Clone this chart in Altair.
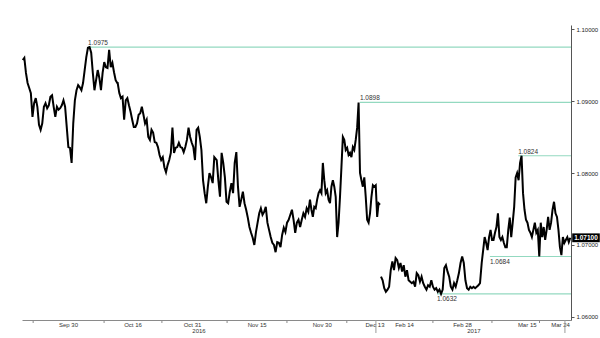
import altair as alt
import pandas as pd

# ---- price series, six consecutive chunks ----
chunk_a = [1.0957, 1.0960, 1.0939, 1.0925, 1.0918, 1.0911, 1.0878, 1.0897, 1.0904, 1.0892,
           1.0867, 1.0860, 1.0869, 1.0892, 1.0897, 1.0890, 1.0894, 1.0906, 1.0908, 1.0892,
           1.0878, 1.0892, 1.0888, 1.0890, 1.0894, 1.0901, 1.0892, 1.0864, 1.0836, 1.0835,
           1.0814, 1.0869, 1.0901, 1.0915, 1.0922, 1.0919, 1.0915, 1.0925, 1.0943, 1.0961,
           1.0974, 1.0975, 1.0967, 1.0939, 1.0915, 1.0929, 1.0943, 1.0932, 1.0915, 1.0939,
           1.0954, 1.0947, 1.0946, 1.0971, 1.0947, 1.0953, 1.0940, 1.0929, 1.0925]
chunk_b = [1.0925, 1.0911, 1.0904, 1.0906, 1.0874, 1.0901, 1.0904, 1.0894, 1.0885, 1.0874,
           1.0864, 1.0864, 1.0869, 1.0881, 1.0883, 1.0892, 1.0881, 1.0869, 1.0874, 1.0850,
           1.0846, 1.0860, 1.0856, 1.0843, 1.0842, 1.0836, 1.0825, 1.0818, 1.0822, 1.0808,
           1.0801, 1.0811, 1.0818, 1.0828, 1.0863, 1.0828, 1.0835, 1.0836, 1.0842, 1.0836,
           1.0835, 1.0829, 1.0836, 1.0846, 1.0863, 1.0850, 1.0842, 1.0836, 1.0818, 1.0860,
           1.0863, 1.0850, 1.0832, 1.0790, 1.0772, 1.0758, 1.0781, 1.0800, 1.0794, 1.0786,
           1.0822]
chunk_c = [1.0818, 1.0790, 1.0767, 1.0828, 1.0814, 1.0794, 1.0760, 1.0758, 1.0774, 1.0786,
           1.0772, 1.0814, 1.0829, 1.0781, 1.0753, 1.0763, 1.0774, 1.0758, 1.0749, 1.0738,
           1.0725, 1.0717, 1.0710, 1.0700, 1.0718, 1.0731, 1.0744, 1.0751, 1.0742, 1.0746,
           1.0753, 1.0731, 1.0721, 1.0711, 1.0703, 1.0700, 1.0690, 1.0704, 1.0703, 1.0697,
           1.0714, 1.0724, 1.0718, 1.0731, 1.0735, 1.0742, 1.0749, 1.0735, 1.0717, 1.0731,
           1.0735, 1.0725, 1.0735, 1.0744, 1.0739, 1.0751, 1.0746]
chunk_d = [1.0763, 1.0749, 1.0739, 1.0753, 1.0751, 1.0763, 1.0772, 1.0776, 1.0772, 1.0814,
           1.0790, 1.0772, 1.0776, 1.0763, 1.0758, 1.0781, 1.0790, 1.0781, 1.0767, 1.0711,
           1.0731, 1.0767, 1.0808, 1.0850, 1.0846, 1.0832, 1.0835, 1.0825, 1.0828, 1.0822,
           1.0836, 1.0832, 1.0846, 1.0863, 1.0898, 1.0800, 1.0790, 1.0781, 1.0794, 1.0767,
           1.0735, 1.0731, 1.0744, 1.0767, 1.0783, 1.0781, 1.0783, 1.0739, 1.0758, 1.0756]
chunk_e = [1.0656, 1.0651, 1.0640, 1.0635, 1.0638, 1.0642, 1.0665, 1.0677, 1.0665, 1.0682,
           1.0679, 1.0668, 1.0675, 1.0663, 1.0672, 1.0656, 1.0665, 1.0651, 1.0649, 1.0647,
           1.0649, 1.0642, 1.0661, 1.0658, 1.0649, 1.0656, 1.0647, 1.0642, 1.0638, 1.0644,
           1.0642, 1.0651, 1.0642, 1.0638, 1.0640, 1.0635, 1.0638, 1.0632, 1.0638, 1.0668,
           1.0672, 1.0663, 1.0656, 1.0642, 1.0638, 1.0647, 1.0642, 1.0651, 1.0661, 1.0675,
           1.0684, 1.0675, 1.0651, 1.0640, 1.0638, 1.0642, 1.0640, 1.0642, 1.0640, 1.0642,
           1.0644, 1.0647]
chunk_f = [1.0675, 1.0693, 1.0711, 1.0703, 1.0693, 1.0711, 1.0721, 1.0707, 1.0707, 1.0717,
           1.0725, 1.0744, 1.0711, 1.0707, 1.0711, 1.0703, 1.0697, 1.0697, 1.0721, 1.0738,
           1.0711, 1.0731, 1.0753, 1.0794, 1.0800, 1.0790, 1.0814, 1.0824, 1.0772, 1.0749,
           1.0735, 1.0731, 1.0721, 1.0717, 1.0711, 1.0721, 1.0731, 1.0717, 1.0721, 1.0684,
           1.0731, 1.0711, 1.0725, 1.0707, 1.0721, 1.0739, 1.0721, 1.0731, 1.0749, 1.0760,
           1.0744, 1.0739, 1.0721, 1.0697, 1.0686, 1.0711, 1.0703, 1.0707, 1.0711, 1.0704,
           1.0710]

chunks = [chunk_a, chunk_b, chunk_c, chunk_d, chunk_e, chunk_f]
# time span of each chunk on the compressed (gap-removed) day axis, Sep 30 = 0
chunk_start = [-11.05, 12.12, 36.27, 59.02, 76.34, 100.90]
chunk_end = [12.02, 35.68, 58.61, 76.10, 100.49, 122.50]
chunk_segment = [1, 1, 1, 1, 2, 2]

# ---- annotated levels ----
level_values = [1.0975, 1.0898, 1.0824, 1.0684, 1.0632]
level_labels = ["1.0975", "1.0898", "1.0824", "1.0684", "1.0632"]
level_start = [4.9, 71.2, 109.8, 102.9, 90.0]
level_text_above = [True, True, True, False, False]

# ---- axis ticks ----
x_tick_days = [0, 15.73, 30.24, 46.02, 61.88, 74.76, 81.95, 96.1, 111.88, 120.0]
x_tick_labels = ["Sep 30", "Oct 16", "Oct 31", "Nov 15", "Nov 30", "Dec 13",
                 "Feb 14", "Feb 28", "Mar 15", "Mar 24"]
x_sep_days = [-8.5, 8.8, 22.9, 38.8, 53.4, 68.0, 89.0, 103.4, 115.0]
x_break_days = [75.1, 121.2]
year_days = [31.95, 99.0]
year_labels = ["2016", "2017"]
y_tick_values = [1.06, 1.0625, 1.065, 1.0675, 1.07, 1.0725, 1.075, 1.0775, 1.08,
                 1.0825, 1.085, 1.0875, 1.09, 1.0925, 1.095, 1.0975, 1.10]
last_price = 1.0710
last_label = "1.07100"

X_DOMAIN = [-11.22, 122.68]
Y_DOMAIN = [1.05958, 1.10056]
W, H = 549, 295
FONT = "Liberation Sans"

rows = []
for vals, d0, d1, seg in zip(chunks, chunk_start, chunk_end, chunk_segment):
    n = len(vals)
    for i, v in enumerate(vals):
        rows.append({"day": d0 + (d1 - d0) * i / (n - 1), "price": v, "seg": seg})
price_df = pd.DataFrame(rows)

level_df = pd.DataFrame({
    "level": level_values, "label": level_labels, "start": level_start,
    "end": [X_DOMAIN[1]] * len(level_values), "above": level_text_above,
})

label_expr = " : ".join(
    f"abs(datum.value - {d}) < 0.01 ? '{t}'" for d, t in zip(x_tick_days, x_tick_labels)
) + " : ''"

xscale = alt.Scale(domain=X_DOMAIN, nice=False, zero=False)
yscale = alt.Scale(domain=Y_DOMAIN, nice=False, zero=False)

x_axis = alt.Axis(values=x_tick_days, labelExpr=label_expr, ticks=False, grid=False,
                  domainColor="#8a8a8a", domainWidth=1, labelFont=FONT, labelFontSize=6,
                  labelColor="#333333", labelPadding=1, title=None, labelOverlap=False)
y_axis = alt.Axis(orient="right", values=y_tick_values,
                  labelExpr="(round(datum.value*10000) % 50 == 0) ? format(datum.value, '.5f') : ''",
                  grid=False, domainColor="#555555", tickColor="#555555", tickSize=3,
                  labelFont=FONT, labelFontSize=6, labelColor="#222222", labelPadding=2,
                  title=None, labelOverlap=False)

line = alt.Chart(price_df).mark_line(color="black", strokeWidth=2.0).encode(
    x=alt.X("day:Q", scale=xscale, axis=x_axis),
    y=alt.Y("price:Q", scale=yscale, axis=y_axis),
    detail="seg:N",
)

levels = alt.Chart(level_df).mark_rule(color="#93d9c0", strokeWidth=1.2).encode(
    x=alt.X("start:Q", scale=xscale), x2="end:Q",
    y=alt.Y("level:Q", scale=yscale),
)

lab_above = alt.Chart(level_df).transform_filter("datum.above").mark_text(
    align="left", baseline="bottom", dy=-1, font=FONT, fontSize=6.5, color="#333333"
).encode(x=alt.X("start:Q", scale=xscale), y=alt.Y("level:Q", scale=yscale), text="label:N")

lab_below = alt.Chart(level_df).transform_filter("!datum.above").mark_text(
    align="left", baseline="top", dy=2, font=FONT, fontSize=6.5, color="#333333"
).encode(x=alt.X("start:Q", scale=xscale), y=alt.Y("level:Q", scale=yscale), text="label:N")

sep_df = pd.DataFrame({"day": x_sep_days})
seps = alt.Chart(sep_df).mark_rule(color="#8a8a8a", strokeWidth=1).encode(
    x=alt.X("day:Q", scale=xscale), y=alt.value(H), y2=alt.value(H + 3)
)
brk_df = pd.DataFrame({"day": x_break_days})
breaks = alt.Chart(brk_df).mark_rule(color="#9a9a9a", strokeWidth=1).encode(
    x=alt.X("day:Q", scale=xscale), y=alt.value(H), y2=alt.value(H + 13)
)

year_df = pd.DataFrame({"day": year_days, "label": year_labels})
years = alt.Chart(year_df).mark_text(
    font=FONT, fontSize=6, color="#333333", baseline="middle"
).encode(x=alt.X("day:Q", scale=xscale), y=alt.value(H + 11), text="label:N")

last_df = pd.DataFrame({"price": [last_price], "label": [last_label]})
last_box = alt.Chart(last_df).mark_point(
    shape="M-1,-0.32L1,-0.32L1,0.32L-1,0.32Z", filled=True, color="black", opacity=1, size=760
).encode(x=alt.value(W + 15), y=alt.Y("price:Q", scale=yscale))
last_txt = alt.Chart(last_df).mark_text(
    font=FONT, fontSize=6.5, fontWeight="bold", color="white", baseline="middle"
).encode(x=alt.value(W + 15), y=alt.Y("price:Q", scale=yscale), text="label:N")

chart = alt.layer(
    levels, line, lab_above, lab_below, seps, breaks, years, last_box, last_txt
).properties(
    width=W, height=H,
    autosize=alt.AutoSizeParams(type="none"),
    padding={"left": 22, "top": 25, "right": 29, "bottom": 18},
    background="white",
).configure_view(stroke=None)

chart.save("out.html", embed_options={"renderer": "svg", "actions": False})
